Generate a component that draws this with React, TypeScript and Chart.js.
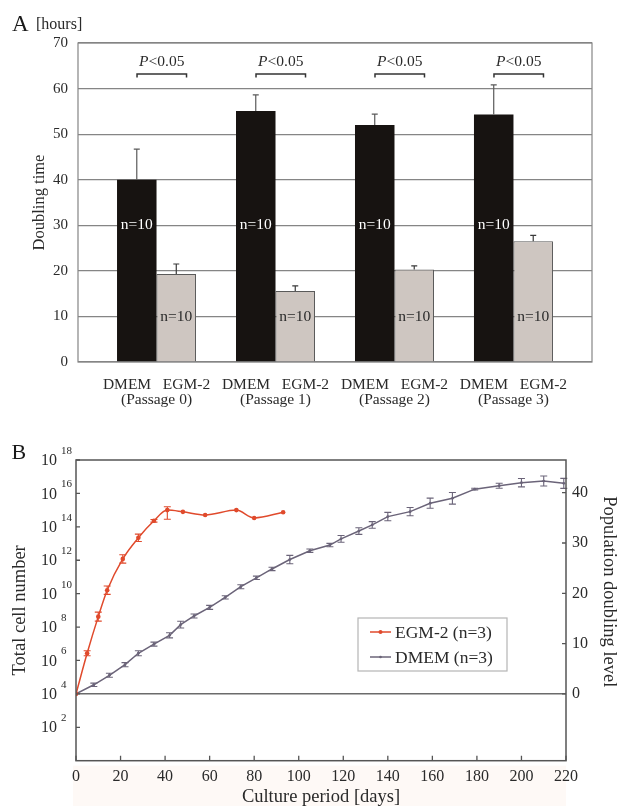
import React, { useEffect, useRef } from 'react';
import { Chart, registerables } from 'chart.js';

Chart.register(...registerables);

const FONT = "'Liberation Serif', 'Times New Roman', serif";
const INK = '#2a2a2a';

// ---------- Panel A data ----------
const passageLabels = ['(Passage 0)', '(Passage 1)', '(Passage 2)', '(Passage 3)'];
const mediumLabel = 'DMEM   EGM-2';
const groupPositions = [1, 2, 3, 4];
const dmemDoubling = [40.0, 55.1, 52.0, 54.3];
const dmemDoublingErr = [6.7, 3.5, 2.4, 6.5];
const egmDoubling = [19.3, 15.6, 20.3, 26.5];
const egmDoublingErr = [2.2, 1.1, 0.8, 1.3];
const doublingTicks = [0, 10, 20, 30, 40, 50, 60, 70];
const sampleSizeLabel = 'n=10';
const significanceP = 'P';
const significanceRest = '<0.05';

// ---------- Panel B data ----------
const egmDays = [0, 5, 10, 14, 21, 28, 35, 41, 48, 58, 72, 80, 93];
const egmCells = [1e4, 2.7e6, 4.2e8, 1.6e10, 1.2e12, 2.2e13, 2.3e14, 1.0e15, 7.9e14, 5.1e14, 1.0e15, 3.4e14, 7.4e14];
const egmErrUp = [0, 0.15, 0.27, 0.25, 0.25, 0.22, 0.08, 0.2, 0, 0, 0, 0, 0];
const egmErrDown = [0, 0.15, 0.27, 0.25, 0.25, 0.22, 0.08, 0.55, 0, 0, 0, 0, 0];

const dmemDays = [0, 8, 15, 22, 28, 35, 42, 47, 53, 60, 67, 74, 81, 88, 96, 105, 114, 119, 127, 133, 140, 150, 159, 169, 179, 190, 200, 210, 219];
const dmemCells = [1e4, 3.5e4, 1.3e5, 5.6e5, 2.7e6, 9.5e6, 3.2e7, 1.4e8, 4.6e8, 1.5e9, 6.0e9, 2.6e10, 8.9e10, 3.0e11, 1.1e12, 3.7e12, 8.1e12, 1.9e13, 5.6e13, 1.3e14, 4.1e14, 8.1e14, 2.6e15, 5.1e15, 1.8e16, 2.9e16, 4.4e16, 5.5e16, 4.0e16];
const dmemErr = [0, 0.1, 0.12, 0.12, 0.15, 0.12, 0.15, 0.2, 0.12, 0.12, 0.1, 0.12, 0.1, 0.1, 0.25, 0.1, 0.1, 0.2, 0.2, 0.2, 0.25, 0.25, 0.3, 0.35, 0.05, 0.15, 0.25, 0.3, 0.3];

const cellExponents = [2, 4, 6, 8, 10, 12, 14, 16, 18];
const dayTicks = [0, 20, 40, 60, 80, 100, 120, 140, 160, 180, 200, 220];
const pdlTicks = [0, 10, 20, 30, 40];

const RED = '#e04a2c';
const PURPLE = '#6b6479';

// ---------- Panel A plugin ----------
const panelAPlugin = {
  id: 'panelA',
  afterDatasetsDraw(chart: any) {
    const { ctx, chartArea: ca, scales } = chart;
    const x = scales.x;
    const y = scales.y;
    ctx.save();
    ctx.strokeStyle = '#858585';
    ctx.lineWidth = 1.2;
    ctx.strokeRect(ca.left, ca.top, ca.right - ca.left, ca.bottom - ca.top);

    const sets = [
      { vals: dmemDoubling, errs: dmemDoublingErr, color: '#5a5a5a' },
      { vals: egmDoubling, errs: egmDoublingErr, color: '#3a3a3a' },
    ];
    sets.forEach((s, di) => {
      const meta = chart.getDatasetMeta(di);
      meta.data.forEach((bar: any, i: number) => {
        const top = y.getPixelForValue(s.vals[i] + s.errs[i]);
        ctx.strokeStyle = s.color;
        ctx.lineWidth = 1.2;
        ctx.beginPath();
        ctx.moveTo(bar.x, bar.y);
        ctx.lineTo(bar.x, top);
        ctx.moveTo(bar.x - 3, top);
        ctx.lineTo(bar.x + 3, top);
        ctx.stroke();
      });
    });

    ctx.font = `15.5px ${FONT}`;
    ctx.textAlign = 'center';
    ctx.textBaseline = 'middle';
    chart.getDatasetMeta(0).data.forEach((bar: any) => {
      ctx.fillStyle = '#ffffff';
      ctx.fillText(sampleSizeLabel, bar.x, y.getPixelForValue(30));
    });
    chart.getDatasetMeta(1).data.forEach((bar: any) => {
      ctx.fillStyle = INK;
      ctx.fillText(sampleSizeLabel, bar.x, y.getPixelForValue(10));
    });

    groupPositions.forEach((g) => {
      const cx = x.getPixelForValue(g);
      const by = y.getPixelForValue(63.2);
      const x0 = cx - 19.5;
      const x1 = cx + 30;
      ctx.strokeStyle = '#333';
      ctx.lineWidth = 1.5;
      ctx.beginPath();
      ctx.moveTo(x0, by + 3.5);
      ctx.lineTo(x0, by);
      ctx.lineTo(x1, by);
      ctx.lineTo(x1, by + 3.5);
      ctx.stroke();
      const italic = `italic 15.5px ${FONT}`;
      const normal = `15.5px ${FONT}`;
      ctx.font = italic;
      const wP = ctx.measureText(significanceP).width;
      ctx.font = normal;
      const wR = ctx.measureText(significanceRest).width;
      const tc = (x0 + x1) / 2;
      const start = tc - (wP + wR) / 2;
      const ty = by - 12.5;
      ctx.fillStyle = INK;
      ctx.textAlign = 'left';
      ctx.font = italic;
      ctx.fillText(significanceP, start, ty);
      ctx.font = normal;
      ctx.fillText(significanceRest, start + wP, ty);
    });
    ctx.restore();
  },
  afterDraw(chart: any) {
    const { ctx } = chart;
    ctx.save();
    ctx.fillStyle = '#1a1a1a';
    ctx.textAlign = 'left';
    ctx.textBaseline = 'alphabetic';
    ctx.font = `23px ${FONT}`;
    ctx.fillText('A', 12, 30.5);
    ctx.fillStyle = INK;
    ctx.font = `16px ${FONT}`;
    ctx.fillText('[hours]', 36, 28.5);
    ctx.restore();
  },
};

// ---------- Panel B plugin ----------
function drawErrorBars(chart: any, dsIndex: number, up: number[], down: number[], color: string) {
  const { ctx } = chart;
  const meta = chart.getDatasetMeta(dsIndex);
  const yScale = chart.scales.y;
  const ds = chart.data.datasets[dsIndex].data as { x: number; y: number }[];
  ctx.save();
  ctx.strokeStyle = color;
  ctx.lineWidth = 1.1;
  meta.data.forEach((pt: any, i: number) => {
    if (!up[i] && !down[i]) return;
    const v = ds[i].y;
    const yt = yScale.getPixelForValue(v * Math.pow(10, up[i]));
    const yb = yScale.getPixelForValue(v / Math.pow(10, down[i]));
    ctx.beginPath();
    ctx.moveTo(pt.x, yt);
    ctx.lineTo(pt.x, yb);
    ctx.moveTo(pt.x - 3.5, yt);
    ctx.lineTo(pt.x + 3.5, yt);
    ctx.moveTo(pt.x - 3.5, yb);
    ctx.lineTo(pt.x + 3.5, yb);
    ctx.stroke();
  });
  ctx.restore();
}

const panelBPlugin = {
  id: 'panelB',
  beforeDraw(chart: any) {
    const { ctx, chartArea: ca } = chart;
    ctx.save();
    ctx.fillStyle = 'rgba(250, 228, 212, 0.22)';
    ctx.fillRect(ca.left - 3, ca.bottom + 5, ca.right - ca.left + 3, chart.height - ca.bottom - 5);
    ctx.restore();
  },
  afterDatasetsDraw(chart: any) {
    const { ctx, chartArea: ca, scales } = chart;
    drawErrorBars(chart, 1, dmemErr, dmemErr, PURPLE);
    drawErrorBars(chart, 0, egmErrUp, egmErrDown, RED);

    ctx.save();
    ctx.strokeStyle = '#555';
    ctx.lineWidth = 1.5;
    ctx.strokeRect(ca.left, ca.top, ca.right - ca.left, ca.bottom - ca.top);

    ctx.lineWidth = 1.3;
    ctx.beginPath();
    dayTicks.forEach((d) => {
      const px = scales.x.getPixelForValue(d);
      ctx.moveTo(px, ca.bottom);
      ctx.lineTo(px, ca.bottom - 5);
    });
    cellExponents.forEach((k) => {
      const py = scales.y.getPixelForValue(Math.pow(10, k));
      ctx.moveTo(ca.left, py);
      ctx.lineTo(ca.left + 4, py);
    });
    pdlTicks.forEach((p) => {
      const py = scales.y2.getPixelForValue(p);
      ctx.moveTo(ca.right, py);
      ctx.lineTo(ca.right - 4, py);
    });
    ctx.stroke();

    ctx.fillStyle = INK;
    ctx.textBaseline = 'middle';
    cellExponents.forEach((k) => {
      const py = scales.y.getPixelForValue(Math.pow(10, k));
      ctx.font = `16px ${FONT}`;
      ctx.textAlign = 'right';
      ctx.fillText('10', 57, py + 1);
      ctx.font = `11px ${FONT}`;
      ctx.textAlign = 'left';
      ctx.fillText(String(k), 61, py - 9);
    });

    const lx = 358;
    const ly = 208;
    const lw = 149;
    const lh = 53;
    ctx.fillStyle = '#ffffff';
    ctx.fillRect(lx, ly, lw, lh);
    ctx.strokeStyle = '#b5b5b5';
    ctx.lineWidth = 1.2;
    ctx.strokeRect(lx, ly, lw, lh);
    const items = [chart.data.datasets[0], chart.data.datasets[1]];
    items.forEach((ds: any, i: number) => {
      const yy = ly + 14 + i * 25;
      ctx.strokeStyle = ds.borderColor;
      ctx.lineWidth = 1.5;
      ctx.beginPath();
      ctx.moveTo(lx + 12, yy);
      ctx.lineTo(lx + 33, yy);
      ctx.stroke();
      ctx.fillStyle = ds.borderColor;
      ctx.beginPath();
      ctx.arc(lx + 22.5, yy, i === 0 ? 2 : 1.3, 0, Math.PI * 2);
      ctx.fill();
      ctx.fillStyle = INK;
      ctx.font = `17.5px ${FONT}`;
      ctx.textAlign = 'left';
      ctx.textBaseline = 'middle';
      ctx.fillText(ds.label, lx + 37, yy + 1);
    });
    ctx.restore();
  },
  afterDraw(chart: any) {
    const { ctx } = chart;
    ctx.save();
    ctx.fillStyle = '#1a1a1a';
    ctx.font = `22px ${FONT}`;
    ctx.textAlign = 'left';
    ctx.textBaseline = 'alphabetic';
    ctx.fillText('B', 11.5, 48.5);
    ctx.restore();
  },
};

export default function App() {
  const refA = useRef<HTMLCanvasElement>(null);
  const refB = useRef<HTMLCanvasElement>(null);

  useEffect(() => {
    const chartA = new Chart(refA.current as HTMLCanvasElement, {
      type: 'bar',
      data: {
        datasets: [
          {
            label: 'DMEM',
            data: groupPositions.map((g, i) => ({ x: g, y: dmemDoubling[i] })),
            backgroundColor: '#171311',
            borderColor: '#171311',
            borderWidth: 0,
          },
          {
            label: 'EGM-2',
            data: groupPositions.map((g, i) => ({ x: g, y: egmDoubling[i] })),
            backgroundColor: '#cec6c1',
            borderColor: '#5a5a5a',
            borderWidth: 1,
          },
        ],
      },
      options: {
        responsive: false,
        animation: false,
        layout: { padding: { left: 0, top: 43, right: 26, bottom: 0 } },
        datasets: { bar: { categoryPercentage: 0.664, barPercentage: 1 } },
        plugins: { legend: { display: false }, tooltip: { enabled: false } },
        scales: {
          x: {
            type: 'linear',
            min: 0.34,
            max: 4.66,
            offset: false,
            grid: { display: false, drawTicks: false },
            border: { display: false },
            afterBuildTicks: (s: any) => {
              s.ticks = groupPositions.map((v) => ({ value: v }));
            },
            afterFit: (s: any) => {
              s.height = 48;
            },
            ticks: {
              callback: (_v: any, i: number) => [mediumLabel, passageLabels[i]],
              font: { family: FONT, size: 15.5, lineHeight: 1 },
              color: INK,
              padding: 15,
              maxRotation: 0,
              autoSkip: false,
            },
          },
          y: {
            min: 0,
            max: 70,
            afterBuildTicks: (s: any) => {
              s.ticks = doublingTicks.map((v) => ({ value: v }));
            },
            afterFit: (s: any) => {
              s.width = 78;
            },
            grid: { color: '#858585', lineWidth: 1.2, drawTicks: false },
            border: { display: false },
            ticks: { font: { family: FONT, size: 15 }, color: INK, padding: 10 },
            title: {
              display: true,
              text: 'Doubling time',
              color: INK,
              font: { family: FONT, size: 16.5, lineHeight: 1 },
              padding: { top: 31, bottom: 0 },
            },
          },
        },
      } as any,
      plugins: [panelAPlugin],
    });

    const chartB = new Chart(refB.current as HTMLCanvasElement, {
      type: 'line',
      data: {
        datasets: [
          {
            label: 'EGM-2 (n=3)',
            data: egmDays.map((d, i) => ({ x: d, y: egmCells[i] })),
            borderColor: RED,
            backgroundColor: RED,
            pointRadius: 2.3,
            pointBorderWidth: 0,
            borderWidth: 1.5,
            cubicInterpolationMode: 'monotone',
            yAxisID: 'y',
          },
          {
            label: 'DMEM (n=3)',
            data: dmemDays.map((d, i) => ({ x: d, y: dmemCells[i] })),
            borderColor: PURPLE,
            backgroundColor: PURPLE,
            pointRadius: 1.4,
            pointBorderWidth: 0,
            borderWidth: 1.5,
            tension: 0,
            yAxisID: 'y',
          },
        ],
      },
      options: {
        responsive: false,
        animation: false,
        layout: { padding: { left: 0, top: 50, right: 0, bottom: 0 } },
        plugins: { legend: { display: false }, tooltip: { enabled: false } },
        scales: {
          x: {
            type: 'linear',
            min: 0,
            max: 220,
            grid: { display: false, drawTicks: false },
            border: { display: false },
            afterBuildTicks: (s: any) => {
              s.ticks = dayTicks.map((v) => ({ value: v }));
            },
            afterFit: (s: any) => {
              s.height = 45.3;
            },
            ticks: {
              font: { family: FONT, size: 16 },
              color: INK,
              padding: 6.7,
              maxRotation: 0,
              autoSkip: false,
            },
            title: {
              display: true,
              text: 'Culture period [days]',
              color: INK,
              font: { family: FONT, size: 18.5, lineHeight: 1 },
              padding: { top: 0, bottom: 0 },
            },
          },
          y: {
            type: 'logarithmic',
            position: 'left',
            min: 1,
            max: 1e18,
            afterBuildTicks: (s: any) => {
              s.ticks = cellExponents.map((k) => ({ value: Math.pow(10, k) }));
            },
            afterFit: (s: any) => {
              s.width = 76;
            },
            ticks: { display: false },
            grid: {
              color: (c: any) => (c.tick && c.tick.value === 1e4 ? '#6b6b6b' : 'rgba(0,0,0,0)'),
              lineWidth: 1.6,
              drawTicks: false,
            },
            border: { display: false },
            title: {
              display: true,
              text: 'Total cell number',
              color: INK,
              font: { family: FONT, size: 18.5, lineHeight: 1 },
              padding: { top: 11, bottom: 0 },
            },
          },
          y2: {
            type: 'linear',
            position: 'right',
            min: -Math.log2(1e4),
            max: Math.log2(1e14),
            afterBuildTicks: (s: any) => {
              s.ticks = pdlTicks.map((v) => ({ value: v }));
            },
            afterFit: (s: any) => {
              s.width = 52;
            },
            grid: { display: false, drawTicks: false },
            border: { display: false },
            ticks: { font: { family: FONT, size: 16 }, color: INK, padding: 6 },
            title: {
              display: true,
              text: 'Population doubling level        ',
              color: INK,
              font: { family: FONT, size: 18.5, lineHeight: 1 },
              padding: { top: 0, bottom: 0 },
            },
          },
        },
      } as any,
      plugins: [panelBPlugin],
    });

    return () => {
      chartA.destroy();
      chartB.destroy();
    };
  }, []);

  return (
    <div style={{ position: 'absolute', left: 0, top: 0, width: 618, height: 806, background: '#ffffff' }}>
      <canvas ref={refA} width={618} height={410} style={{ position: 'absolute', left: 0, top: 0 }} />
      <canvas ref={refB} width={618} height={396} style={{ position: 'absolute', left: 0, top: 410 }} />
    </div>
  );
}
